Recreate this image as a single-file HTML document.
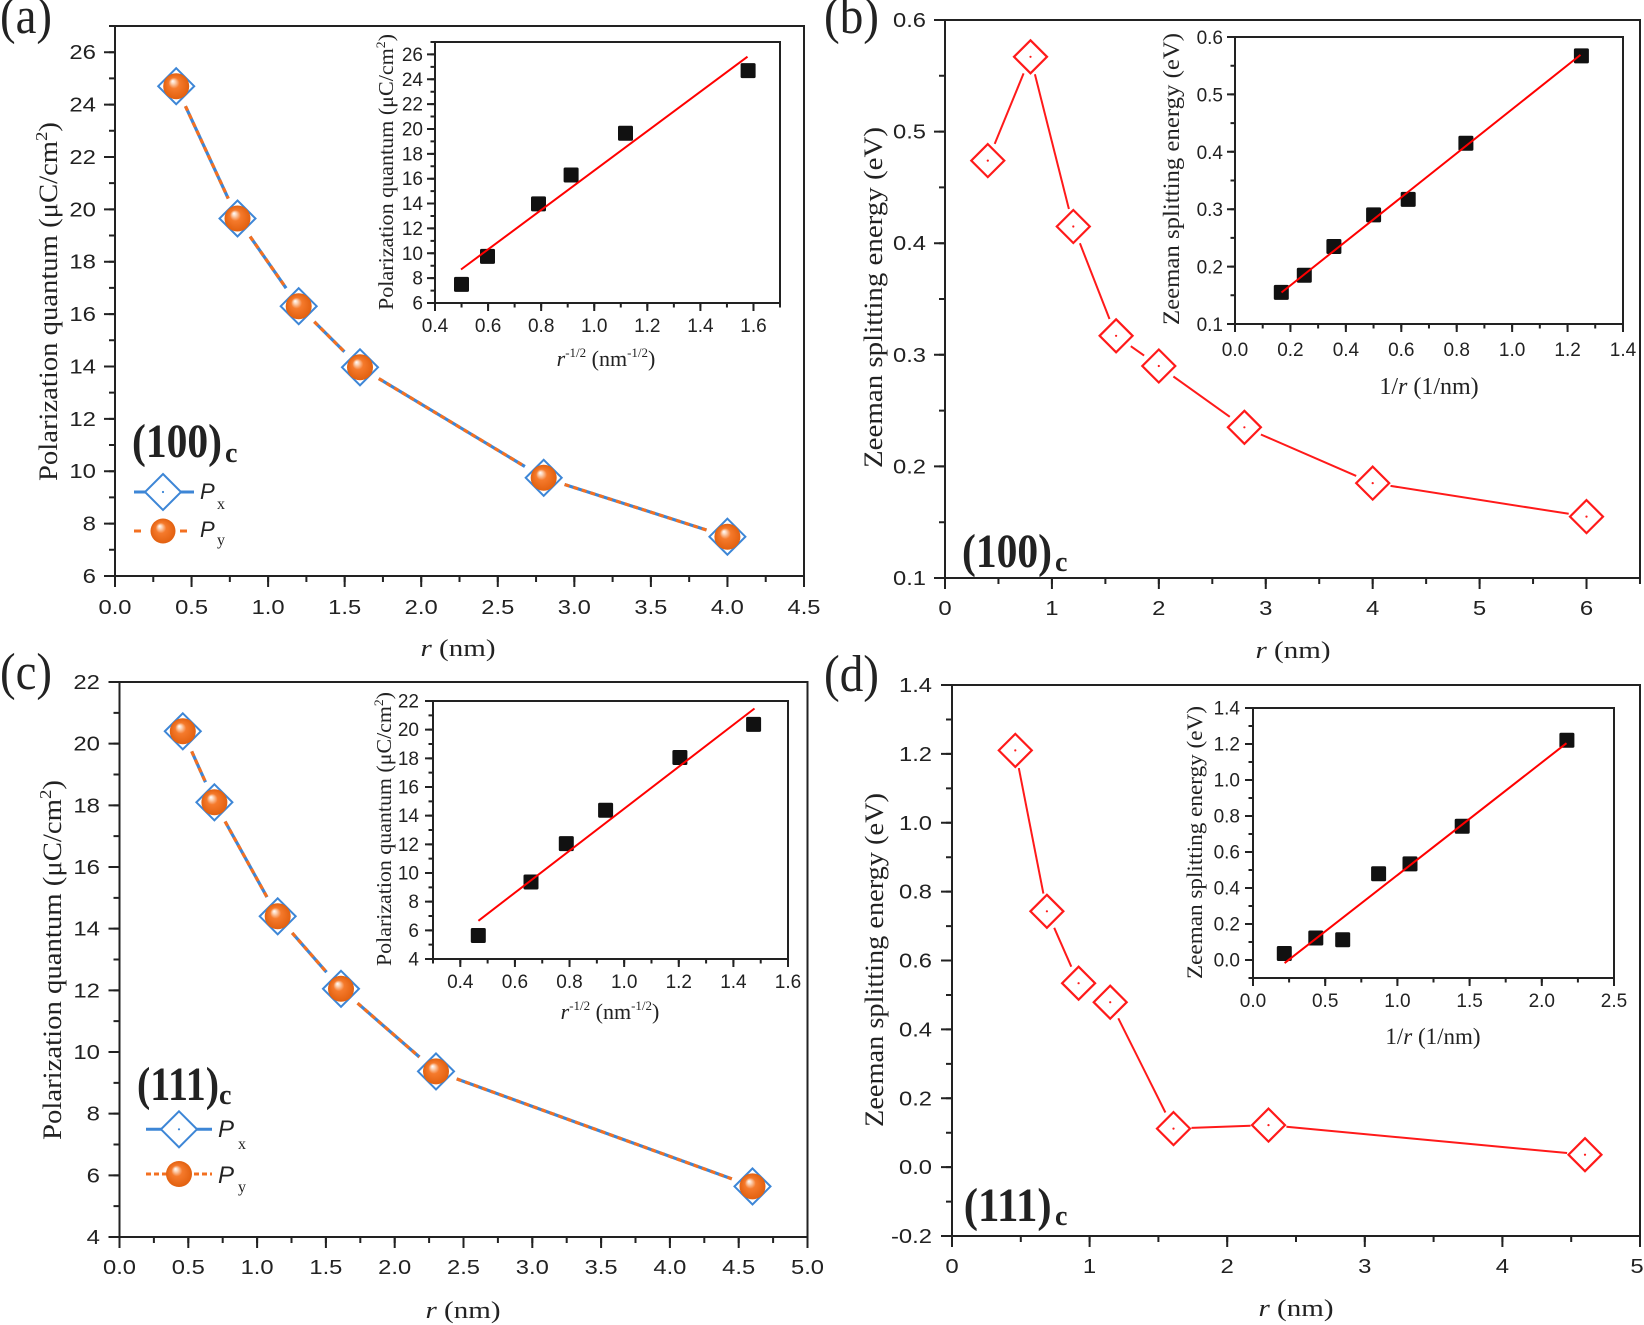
<!DOCTYPE html>
<html><head><meta charset="utf-8"><style>
html,body{margin:0;padding:0;background:#fff;}
svg{display:block;}
.ax{fill:none;stroke:#222;stroke-width:2;}
.tk line{stroke:#222;}
.tl{font-family:"Liberation Sans",Arial,sans-serif;font-size:20px;fill:#222;}
.ti{font-family:"Liberation Sans",Arial,sans-serif;font-size:19px;fill:#222;}
.ser{font-family:"Liberation Serif","Times New Roman",serif;fill:#222;}
.bl{stroke:#3d86d6;stroke-width:3.2;fill:none;}
.or{stroke:#f37021;stroke-width:3.2;fill:none;stroke-dasharray:5 4;}
.rl{stroke:#ff1a1a;stroke-width:2;fill:none;}
.fit{stroke:#ff0000;stroke-width:2;fill:none;}
</style></head><body>
<svg width="1644" height="1325" viewBox="0 0 1644 1325" xmlns="http://www.w3.org/2000/svg">
<defs>
<radialGradient id="ball" cx="0.5" cy="0.5" r="0.5" fx="0.36" fy="0.3">
<stop offset="0" stop-color="#ffffff"/>
<stop offset="0.15" stop-color="#fcd6bb"/>
<stop offset="0.42" stop-color="#f57a2c"/>
<stop offset="1" stop-color="#e2600f"/>
</radialGradient>
<path id="bd" d="M0,-18 L18,0 L0,18 L-18,0 Z" fill="#fff" stroke="#3d86d6" stroke-width="2"/>
<circle id="bb" r="13" fill="url(#ball)"/>
<g id="rd"><path d="M0,-16.5 L16.5,0 L0,16.5 L-16.5,0 Z" fill="none" stroke="#ff1a1a" stroke-width="2.2"/><circle r="1.1" fill="#ff1a1a"/></g>
<rect id="sq" x="-7.5" y="-7.5" width="15" height="15" rx="1.5" fill="#111"/>
</defs>

<!-- ================= PANEL A ================= -->
<text class="ser" x="0" y="33" font-size="52" textLength="52" lengthAdjust="spacingAndGlyphs">(a)</text>
<rect x="115" y="26" width="689" height="550" class="ax"/>
<g class="tk">
<line x1="114" y1="581.5" x2="805.5" y2="581.5" stroke-width="11" stroke-dasharray="2 74.556"/>
<line x1="114" y1="579" x2="805.5" y2="579" stroke-width="6" stroke-dasharray="2 36.278"/>
<line x1="109.5" y1="577" x2="109.5" y2="50.5" stroke-width="11" stroke-dasharray="2 50.38"/>
<line x1="112" y1="577" x2="112" y2="25" stroke-width="6" stroke-dasharray="2 24.19"/>
</g>
<g class="tl" text-anchor="middle">
<text x="115" y="614" textLength="33" lengthAdjust="spacingAndGlyphs">0.0</text>
<text x="191.6" y="614" textLength="33" lengthAdjust="spacingAndGlyphs">0.5</text>
<text x="268.1" y="614" textLength="33" lengthAdjust="spacingAndGlyphs">1.0</text>
<text x="344.7" y="614" textLength="33" lengthAdjust="spacingAndGlyphs">1.5</text>
<text x="421.2" y="614" textLength="33" lengthAdjust="spacingAndGlyphs">2.0</text>
<text x="497.8" y="614" textLength="33" lengthAdjust="spacingAndGlyphs">2.5</text>
<text x="574.3" y="614" textLength="33" lengthAdjust="spacingAndGlyphs">3.0</text>
<text x="650.9" y="614" textLength="33" lengthAdjust="spacingAndGlyphs">3.5</text>
<text x="727.4" y="614" textLength="33" lengthAdjust="spacingAndGlyphs">4.0</text>
<text x="804" y="614" textLength="33" lengthAdjust="spacingAndGlyphs">4.5</text>
</g>
<g class="tl" text-anchor="end">
<text x="96" y="583" textLength="13.3" lengthAdjust="spacingAndGlyphs">6</text>
<text x="96" y="530.6" textLength="13.3" lengthAdjust="spacingAndGlyphs">8</text>
<text x="96" y="478.2" textLength="26.6" lengthAdjust="spacingAndGlyphs">10</text>
<text x="96" y="425.9" textLength="26.6" lengthAdjust="spacingAndGlyphs">12</text>
<text x="96" y="373.5" textLength="26.6" lengthAdjust="spacingAndGlyphs">14</text>
<text x="96" y="321.1" textLength="26.6" lengthAdjust="spacingAndGlyphs">16</text>
<text x="96" y="268.7" textLength="26.6" lengthAdjust="spacingAndGlyphs">18</text>
<text x="96" y="216.3" textLength="26.6" lengthAdjust="spacingAndGlyphs">20</text>
<text x="96" y="164" textLength="26.6" lengthAdjust="spacingAndGlyphs">22</text>
<text x="96" y="111.6" textLength="26.6" lengthAdjust="spacingAndGlyphs">24</text>
<text x="96" y="59.2" textLength="26.6" lengthAdjust="spacingAndGlyphs">26</text>
</g>
<text class="ser" x="458" y="656" font-size="24" text-anchor="middle" textLength="75" lengthAdjust="spacingAndGlyphs"><tspan font-style="italic">r</tspan> (nm)</text>
<text class="ser" font-size="26" transform="translate(57,481) rotate(-90)" textLength="359" lengthAdjust="spacingAndGlyphs">Polarization quantum (μC/cm<tspan dy="-10" font-size="17">2</tspan><tspan dy="10">)</tspan></text>
<g>
<line class="bl" x1="185.45" y1="106.16" x2="228.25" y2="198.54"/>
<line class="bl" x1="250.1" y1="236.55" x2="286.1" y2="288.15"/>
<line class="bl" x1="314.3" y1="321.7" x2="344.4" y2="351.8"/>
<line class="bl" x1="378.8" y1="378.6" x2="524.9" y2="466.5"/>
<line class="bl" x1="564.6" y1="484.5" x2="706.5" y2="530"/>
<line class="or" x1="185.45" y1="106.16" x2="228.25" y2="198.54"/>
<line class="or" x1="250.1" y1="236.55" x2="286.1" y2="288.15"/>
<line class="or" x1="314.3" y1="321.7" x2="344.4" y2="351.8"/>
<line class="or" x1="378.8" y1="378.6" x2="524.9" y2="466.5"/>
<line class="or" x1="564.6" y1="484.5" x2="706.5" y2="530"/>
</g>
<use href="#bd" x="176.2" y="86.2"/><use href="#bb" x="176.2" y="86.2"/>
<use href="#bd" x="237.5" y="218.5"/><use href="#bb" x="237.5" y="218.5"/>
<use href="#bd" x="298.7" y="306.2"/><use href="#bb" x="298.7" y="306.2"/>
<use href="#bd" x="360" y="367.3"/><use href="#bb" x="360" y="367.3"/>
<use href="#bd" x="543.7" y="477.8"/><use href="#bb" x="543.7" y="477.8"/>
<use href="#bd" x="727.4" y="536.7"/><use href="#bb" x="727.4" y="536.7"/>
<text class="ser" font-weight="bold" x="132" y="457" font-size="48" textLength="90" lengthAdjust="spacingAndGlyphs">(100)</text>
<text class="ser" font-weight="bold" x="225" y="462" font-size="28">c</text>
<line x1="134" y1="492" x2="194" y2="492" stroke="#3d86d6" stroke-width="3"/>
<use href="#bd" x="163" y="492"/><circle cx="163" cy="492" r="1.1" fill="#3d86d6"/>
<line x1="134" y1="531" x2="141" y2="531" stroke="#f37021" stroke-width="3"/>
<line x1="180" y1="531" x2="187" y2="531" stroke="#f37021" stroke-width="3"/>
<circle cx="163" cy="531" r="12.5" fill="url(#ball)"/>
<text x="200" y="499" font-family="Liberation Sans, Arial, sans-serif" font-style="italic" font-size="22" fill="#222">P</text>
<text class="ser" x="217" y="509" font-size="16">x</text>
<text x="200" y="537" font-family="Liberation Sans, Arial, sans-serif" font-style="italic" font-size="22" fill="#222">P</text>
<text class="ser" x="217" y="545" font-size="16">y</text>
<!-- inset A -->
<rect x="435" y="42" width="345" height="261" class="ax" fill="#fff"/>
<g class="tk">
<line x1="434" y1="307" x2="754.6" y2="307" stroke-width="8" stroke-dasharray="2 51.08"/>
<line x1="434" y1="305.25" x2="781" y2="305.25" stroke-width="4.5" stroke-dasharray="2 24.54"/>
<line x1="431" y1="304" x2="431" y2="53.3" stroke-width="8" stroke-dasharray="2 22.86"/>
<line x1="432.75" y1="304" x2="432.75" y2="41" stroke-width="4.5" stroke-dasharray="2 10.43"/>
</g>
<g class="ti" text-anchor="middle">
<text x="435" y="332">0.4</text><text x="488.1" y="332">0.6</text><text x="541.2" y="332">0.8</text><text x="594.2" y="332">1.0</text><text x="647.3" y="332">1.2</text><text x="700.4" y="332">1.4</text><text x="753.5" y="332">1.6</text>
</g>
<g class="ti" text-anchor="end">
<text x="423" y="309.5">6</text><text x="423" y="284.6">8</text><text x="423" y="259.8">10</text><text x="423" y="234.9">12</text><text x="423" y="210.1">14</text><text x="423" y="185.2">16</text><text x="423" y="160.3">18</text><text x="423" y="135.5">20</text><text x="423" y="110.6">22</text><text x="423" y="85.8">24</text><text x="423" y="60.9">26</text>
</g>
<text class="ser" x="606" y="366" font-size="22" text-anchor="middle"><tspan font-style="italic">r</tspan><tspan font-size="13" dy="-9">-1/2</tspan><tspan dy="9"> (nm</tspan><tspan font-size="13" dy="-9">-1/2</tspan><tspan dy="9">)</tspan></text>
<text class="ser" font-size="21" transform="translate(393,310) rotate(-90)" textLength="276" lengthAdjust="spacingAndGlyphs">Polarization quantum (μC/cm<tspan dy="-8" font-size="13">2</tspan><tspan dy="8">)</tspan></text>
<use href="#sq" x="461.5" y="284.4"/><use href="#sq" x="487.5" y="256.4"/><use href="#sq" x="538.5" y="203.9"/><use href="#sq" x="571.1" y="175"/><use href="#sq" x="625.5" y="133.3"/><use href="#sq" x="748.1" y="70.6"/>
<line class="fit" x1="461" y1="269.5" x2="747.5" y2="56.7"/>

<!-- ================= PANEL B ================= -->
<text class="ser" x="824" y="33" font-size="52" textLength="55" lengthAdjust="spacingAndGlyphs">(b)</text>
<rect x="945" y="20" width="695" height="558" class="ax"/>
<g class="tk">
<line x1="944" y1="583.5" x2="1588" y2="583.5" stroke-width="11" stroke-dasharray="2 104.92"/>
<line x1="944" y1="581" x2="1641" y2="581" stroke-width="6" stroke-dasharray="2 51.46"/>
<line x1="939.5" y1="579" x2="939.5" y2="19" stroke-width="11" stroke-dasharray="2 109.6"/>
<line x1="942" y1="579" x2="942" y2="19" stroke-width="6" stroke-dasharray="2 53.8"/>
</g>
<g class="tl" text-anchor="middle">
<text x="945" y="615" textLength="13.3" lengthAdjust="spacingAndGlyphs">0</text>
<text x="1051.9" y="615" textLength="13.3" lengthAdjust="spacingAndGlyphs">1</text>
<text x="1158.8" y="615" textLength="13.3" lengthAdjust="spacingAndGlyphs">2</text>
<text x="1265.8" y="615" textLength="13.3" lengthAdjust="spacingAndGlyphs">3</text>
<text x="1372.7" y="615" textLength="13.3" lengthAdjust="spacingAndGlyphs">4</text>
<text x="1479.6" y="615" textLength="13.3" lengthAdjust="spacingAndGlyphs">5</text>
<text x="1586.5" y="615" textLength="13.3" lengthAdjust="spacingAndGlyphs">6</text>
</g>
<g class="tl" text-anchor="end">
<text x="926" y="585" textLength="33" lengthAdjust="spacingAndGlyphs">0.1</text>
<text x="926" y="473.4" textLength="33" lengthAdjust="spacingAndGlyphs">0.2</text>
<text x="926" y="361.8" textLength="33" lengthAdjust="spacingAndGlyphs">0.3</text>
<text x="926" y="250.2" textLength="33" lengthAdjust="spacingAndGlyphs">0.4</text>
<text x="926" y="138.6" textLength="33" lengthAdjust="spacingAndGlyphs">0.5</text>
<text x="926" y="27" textLength="33" lengthAdjust="spacingAndGlyphs">0.6</text>
</g>
<text class="ser" x="1293" y="658" font-size="24" text-anchor="middle" textLength="75" lengthAdjust="spacingAndGlyphs"><tspan font-style="italic">r</tspan> (nm)</text>
<text class="ser" font-size="26" transform="translate(882,468) rotate(-90)" textLength="341" lengthAdjust="spacingAndGlyphs">Zeeman splitting energy (eV)</text>
<line class="rl" x1="994.7" y1="143.9" x2="1023.6" y2="73.4"/>
<line class="rl" x1="1034.9" y1="74.3" x2="1068.9" y2="209"/>
<line class="rl" x1="1079.9" y1="243.3" x2="1109.5" y2="319"/>
<line class="rl" x1="1130.8" y1="346.2" x2="1144.1" y2="355.6"/>
<line class="rl" x1="1173.4" y1="376.5" x2="1229.8" y2="416.8"/>
<line class="rl" x1="1260.9" y1="434.5" x2="1356.2" y2="475.9"/>
<line class="rl" x1="1390.5" y1="485.9" x2="1568.7" y2="513.8"/>
<use href="#rd" x="987.8" y="160.6"/><use href="#rd" x="1030.5" y="56.8"/><use href="#rd" x="1073.3" y="226.5"/><use href="#rd" x="1116.1" y="335.8"/><use href="#rd" x="1158.8" y="366"/><use href="#rd" x="1244.4" y="427.3"/><use href="#rd" x="1372.7" y="483.1"/><use href="#rd" x="1586.5" y="516.6"/>
<text class="ser" font-weight="bold" x="962" y="567" font-size="48" textLength="90" lengthAdjust="spacingAndGlyphs">(100)</text>
<text class="ser" font-weight="bold" x="1055" y="571" font-size="28">c</text>
<!-- inset B -->
<rect x="1235" y="37" width="388" height="287" class="ax" fill="#fff"/>
<g class="tk">
<line x1="1234" y1="328" x2="1624" y2="328" stroke-width="8" stroke-dasharray="2 53.43"/>
<line x1="1234" y1="326.25" x2="1624" y2="326.25" stroke-width="4.5" stroke-dasharray="2 25.71"/>
<line x1="1231" y1="325" x2="1231" y2="36" stroke-width="8" stroke-dasharray="2 55.4"/>
<line x1="1232.75" y1="325" x2="1232.75" y2="36" stroke-width="4.5" stroke-dasharray="2 26.7"/>
</g>
<g class="ti" text-anchor="middle" font-size="20">
<text x="1235" y="356">0.0</text><text x="1290.4" y="356">0.2</text><text x="1345.9" y="356">0.4</text><text x="1401.3" y="356">0.6</text><text x="1456.7" y="356">0.8</text><text x="1512.1" y="356">1.0</text><text x="1567.6" y="356">1.2</text><text x="1623" y="356">1.4</text>
</g>
<g class="ti" text-anchor="end" font-size="20">
<text x="1223" y="331">0.1</text><text x="1223" y="273.6">0.2</text><text x="1223" y="216.2">0.3</text><text x="1223" y="158.8">0.4</text><text x="1223" y="101.4">0.5</text><text x="1223" y="44">0.6</text>
</g>
<text class="ser" x="1429" y="394" font-size="24" text-anchor="middle">1/<tspan font-style="italic">r</tspan> (1/nm)</text>
<text class="ser" font-size="23" transform="translate(1179,325) rotate(-90)" textLength="292" lengthAdjust="spacingAndGlyphs">Zeeman splitting energy (eV)</text>
<use href="#sq" x="1281.3" y="292.4"/><use href="#sq" x="1304.3" y="275.2"/><use href="#sq" x="1333.9" y="246.5"/><use href="#sq" x="1373.6" y="214.9"/><use href="#sq" x="1408.2" y="199.4"/><use href="#sq" x="1465.9" y="143.2"/><use href="#sq" x="1581.4" y="55.9"/>
<line class="fit" x1="1281.5" y1="292.5" x2="1580.5" y2="54.9"/>

<!-- ================= PANEL C ================= -->
<text class="ser" x="0" y="689" font-size="52" textLength="52" lengthAdjust="spacingAndGlyphs">(c)</text>
<rect x="119.5" y="682" width="688" height="555" class="ax"/>
<g class="tk">
<line x1="118.5" y1="1242.5" x2="808.5" y2="1242.5" stroke-width="11" stroke-dasharray="2 66.8"/>
<line x1="118.5" y1="1240" x2="808.5" y2="1240" stroke-width="6" stroke-dasharray="2 32.4"/>
<line x1="114" y1="1238" x2="114" y2="681" stroke-width="11" stroke-dasharray="2 59.667"/>
<line x1="116.5" y1="1238" x2="116.5" y2="681" stroke-width="6" stroke-dasharray="2 28.833"/>
</g>
<g class="tl" text-anchor="middle">
<text x="119.5" y="1274" textLength="33" lengthAdjust="spacingAndGlyphs">0.0</text>
<text x="188.3" y="1274" textLength="33" lengthAdjust="spacingAndGlyphs">0.5</text>
<text x="257.1" y="1274" textLength="33" lengthAdjust="spacingAndGlyphs">1.0</text>
<text x="325.9" y="1274" textLength="33" lengthAdjust="spacingAndGlyphs">1.5</text>
<text x="394.7" y="1274" textLength="33" lengthAdjust="spacingAndGlyphs">2.0</text>
<text x="463.5" y="1274" textLength="33" lengthAdjust="spacingAndGlyphs">2.5</text>
<text x="532.3" y="1274" textLength="33" lengthAdjust="spacingAndGlyphs">3.0</text>
<text x="601.1" y="1274" textLength="33" lengthAdjust="spacingAndGlyphs">3.5</text>
<text x="669.9" y="1274" textLength="33" lengthAdjust="spacingAndGlyphs">4.0</text>
<text x="738.7" y="1274" textLength="33" lengthAdjust="spacingAndGlyphs">4.5</text>
<text x="807.5" y="1274" textLength="33" lengthAdjust="spacingAndGlyphs">5.0</text>
</g>
<g class="tl" text-anchor="end">
<text x="100" y="1244" textLength="13.3" lengthAdjust="spacingAndGlyphs">4</text>
<text x="100" y="1182.3" textLength="13.3" lengthAdjust="spacingAndGlyphs">6</text>
<text x="100" y="1120.7" textLength="13.3" lengthAdjust="spacingAndGlyphs">8</text>
<text x="100" y="1059" textLength="26.6" lengthAdjust="spacingAndGlyphs">10</text>
<text x="100" y="997.3" textLength="26.6" lengthAdjust="spacingAndGlyphs">12</text>
<text x="100" y="935.7" textLength="26.6" lengthAdjust="spacingAndGlyphs">14</text>
<text x="100" y="874" textLength="26.6" lengthAdjust="spacingAndGlyphs">16</text>
<text x="100" y="812.3" textLength="26.6" lengthAdjust="spacingAndGlyphs">18</text>
<text x="100" y="750.7" textLength="26.6" lengthAdjust="spacingAndGlyphs">20</text>
<text x="100" y="689" textLength="26.6" lengthAdjust="spacingAndGlyphs">22</text>
</g>
<text class="ser" x="463" y="1318" font-size="24" text-anchor="middle" textLength="75" lengthAdjust="spacingAndGlyphs"><tspan font-style="italic">r</tspan> (nm)</text>
<text class="ser" font-size="26" transform="translate(61,1140) rotate(-90)" textLength="360" lengthAdjust="spacingAndGlyphs">Polarization quantum (μC/cm<tspan dy="-10" font-size="17">2</tspan><tspan dy="10">)</tspan></text>
<g>
<line class="bl" x1="191.7" y1="751.4" x2="205.5" y2="782.2"/>
<line class="bl" x1="225.1" y1="821.5" x2="267" y2="897.1"/>
<line class="bl" x1="292.2" y1="932.9" x2="326.5" y2="972.2"/>
<line class="bl" x1="357.6" y1="1003.2" x2="419.4" y2="1057"/>
<line class="bl" x1="456.7" y1="1078.9" x2="731.8" y2="1178.9"/>
<line class="or" x1="191.7" y1="751.4" x2="205.5" y2="782.2"/>
<line class="or" x1="225.1" y1="821.5" x2="267" y2="897.1"/>
<line class="or" x1="292.2" y1="932.9" x2="326.5" y2="972.2"/>
<line class="or" x1="357.6" y1="1003.2" x2="419.4" y2="1057"/>
<line class="or" x1="456.7" y1="1078.9" x2="731.8" y2="1178.9"/>
</g>
<use href="#bd" x="182.8" y="731.3"/><use href="#bb" x="182.8" y="731.3"/>
<use href="#bd" x="214.4" y="802.3"/><use href="#bb" x="214.4" y="802.3"/>
<use href="#bd" x="277.7" y="916.3"/><use href="#bb" x="277.7" y="916.3"/>
<use href="#bd" x="341" y="988.8"/><use href="#bb" x="341" y="988.8"/>
<use href="#bd" x="436" y="1071.4"/><use href="#bb" x="436" y="1071.4"/>
<use href="#bd" x="752.5" y="1186.4"/><use href="#bb" x="752.5" y="1186.4"/>
<text class="ser" font-weight="bold" x="137" y="1100" font-size="48" textLength="82" lengthAdjust="spacingAndGlyphs">(111)</text>
<text class="ser" font-weight="bold" x="219" y="1104" font-size="28">c</text>
<line x1="146" y1="1129.3" x2="212" y2="1129.3" stroke="#3d86d6" stroke-width="3"/>
<use href="#bd" x="179" y="1129.3"/><circle cx="179" cy="1129.3" r="1.1" fill="#3d86d6"/>
<line x1="146" y1="1174" x2="212" y2="1174" stroke="#f37021" stroke-width="3" stroke-dasharray="5 3"/>
<circle cx="179" cy="1174" r="13" fill="url(#ball)"/>
<text x="218" y="1137" font-family="Liberation Sans, Arial, sans-serif" font-style="italic" font-size="24" fill="#222">P</text>
<text class="ser" x="238" y="1149" font-size="16">x</text>
<text x="218" y="1183" font-family="Liberation Sans, Arial, sans-serif" font-style="italic" font-size="24" fill="#222">P</text>
<text class="ser" x="238" y="1192" font-size="16">y</text>
<!-- inset C -->
<rect x="433" y="701" width="355" height="258" class="ax" fill="#fff"/>
<g class="tk">
<line x1="459.3" y1="963" x2="789" y2="963" stroke-width="8" stroke-dasharray="2 52.62"/>
<line x1="432" y1="961.25" x2="789" y2="961.25" stroke-width="4.5" stroke-dasharray="2 25.31"/>
<line x1="429" y1="960" x2="429" y2="700" stroke-width="8" stroke-dasharray="2 26.667"/>
<line x1="430.75" y1="960" x2="430.75" y2="700" stroke-width="4.5" stroke-dasharray="2 12.333"/>
</g>
<g class="ti" text-anchor="middle">
<text x="460.3" y="988">0.4</text><text x="514.9" y="988">0.6</text><text x="569.5" y="988">0.8</text><text x="624.2" y="988">1.0</text><text x="678.8" y="988">1.2</text><text x="733.4" y="988">1.4</text><text x="788" y="988">1.6</text>
</g>
<g class="ti" text-anchor="end">
<text x="419" y="965.5">4</text><text x="419" y="936.8">6</text><text x="419" y="908.2">8</text><text x="419" y="879.5">10</text><text x="419" y="850.8">12</text><text x="419" y="822.2">14</text><text x="419" y="793.5">16</text><text x="419" y="764.8">18</text><text x="419" y="736.2">20</text><text x="419" y="707.5">22</text>
</g>
<text class="ser" x="610" y="1019" font-size="22" text-anchor="middle"><tspan font-style="italic">r</tspan><tspan font-size="13" dy="-9">-1/2</tspan><tspan dy="9"> (nm</tspan><tspan font-size="13" dy="-9">-1/2</tspan><tspan dy="9">)</tspan></text>
<text class="ser" font-size="21" transform="translate(391,966) rotate(-90)" textLength="274" lengthAdjust="spacingAndGlyphs">Polarization quantum (μC/cm<tspan dy="-8" font-size="13">2</tspan><tspan dy="8">)</tspan></text>
<use href="#sq" x="478.3" y="935.5"/><use href="#sq" x="531" y="882"/><use href="#sq" x="566.3" y="843.6"/><use href="#sq" x="605.6" y="810.2"/><use href="#sq" x="679.9" y="757.5"/><use href="#sq" x="753.6" y="724.4"/>
<line class="fit" x1="478.4" y1="920.8" x2="754.5" y2="708.5"/>

<!-- ================= PANEL D ================= -->
<text class="ser" x="824" y="691" font-size="52" textLength="55" lengthAdjust="spacingAndGlyphs">(d)</text>
<rect x="952" y="685" width="688" height="551" class="ax"/>
<g class="tk">
<line x1="951" y1="1241.5" x2="1641" y2="1241.5" stroke-width="11" stroke-dasharray="2 135.6"/>
<line x1="951" y1="1239" x2="1641" y2="1239" stroke-width="6" stroke-dasharray="2 66.8"/>
<line x1="946.5" y1="1237" x2="946.5" y2="684" stroke-width="11" stroke-dasharray="2 66.875"/>
<line x1="949" y1="1237" x2="949" y2="684" stroke-width="6" stroke-dasharray="2 32.4375"/>
</g>
<g class="tl" text-anchor="middle">
<text x="952" y="1273" textLength="13.3" lengthAdjust="spacingAndGlyphs">0</text>
<text x="1089.6" y="1273" textLength="13.3" lengthAdjust="spacingAndGlyphs">1</text>
<text x="1227.2" y="1273" textLength="13.3" lengthAdjust="spacingAndGlyphs">2</text>
<text x="1364.8" y="1273" textLength="13.3" lengthAdjust="spacingAndGlyphs">3</text>
<text x="1502.4" y="1273" textLength="13.3" lengthAdjust="spacingAndGlyphs">4</text>
<text x="1637" y="1273" textLength="13.3" lengthAdjust="spacingAndGlyphs">5</text>
</g>
<g class="tl" text-anchor="end">
<text x="932" y="1243" textLength="41" lengthAdjust="spacingAndGlyphs">-0.2</text>
<text x="932" y="1174.1" textLength="33" lengthAdjust="spacingAndGlyphs">0.0</text>
<text x="932" y="1105.3" textLength="33" lengthAdjust="spacingAndGlyphs">0.2</text>
<text x="932" y="1036.4" textLength="33" lengthAdjust="spacingAndGlyphs">0.4</text>
<text x="932" y="967.5" textLength="33" lengthAdjust="spacingAndGlyphs">0.6</text>
<text x="932" y="898.6" textLength="33" lengthAdjust="spacingAndGlyphs">0.8</text>
<text x="932" y="829.8" textLength="33" lengthAdjust="spacingAndGlyphs">1.0</text>
<text x="932" y="760.9" textLength="33" lengthAdjust="spacingAndGlyphs">1.2</text>
<text x="932" y="692" textLength="33" lengthAdjust="spacingAndGlyphs">1.4</text>
</g>
<text class="ser" x="1296" y="1316" font-size="24" text-anchor="middle" textLength="75" lengthAdjust="spacingAndGlyphs"><tspan font-style="italic">r</tspan> (nm)</text>
<text class="ser" font-size="26" transform="translate(883,1127) rotate(-90)" textLength="334" lengthAdjust="spacingAndGlyphs">Zeeman splitting energy (eV)</text>
<line class="rl" x1="1018.8" y1="768.1" x2="1043.4" y2="893.6"/>
<line class="rl" x1="1054.2" y1="927.8" x2="1071.3" y2="966.7"/>
<line class="rl" x1="1118.3" y1="1018.3" x2="1165.4" y2="1112.5"/>
<line class="rl" x1="1191.5" y1="1127.9" x2="1250.5" y2="1125.8"/>
<line class="rl" x1="1286.4" y1="1126.8" x2="1567.1" y2="1153"/>
<use href="#rd" x="1015.3" y="750.4"/><use href="#rd" x="1046.9" y="911.3"/><use href="#rd" x="1078.6" y="983.2"/><use href="#rd" x="1110.2" y="1002.2"/><use href="#rd" x="1173.5" y="1128.6"/><use href="#rd" x="1268.5" y="1125.1"/><use href="#rd" x="1585" y="1154.7"/>
<text class="ser" font-weight="bold" x="963.7" y="1221" font-size="48" textLength="88" lengthAdjust="spacingAndGlyphs">(111)</text>
<text class="ser" font-weight="bold" x="1055" y="1225" font-size="28">c</text>
<!-- inset D -->
<rect x="1253" y="708" width="361" height="270" class="ax" fill="#fff"/>
<g class="tk">
<line x1="1252" y1="982" x2="1615" y2="982" stroke-width="8" stroke-dasharray="2 70.2"/>
<line x1="1252" y1="980.25" x2="1615" y2="980.25" stroke-width="4.5" stroke-dasharray="2 34.1"/>
<line x1="1249" y1="961" x2="1249" y2="707" stroke-width="8" stroke-dasharray="2 34"/>
<line x1="1250.75" y1="979" x2="1250.75" y2="707" stroke-width="4.5" stroke-dasharray="2 16"/>
</g>
<g class="ti" text-anchor="middle">
<text x="1253" y="1007">0.0</text><text x="1325.2" y="1007">0.5</text><text x="1397.4" y="1007">1.0</text><text x="1469.6" y="1007">1.5</text><text x="1541.8" y="1007">2.0</text><text x="1614" y="1007">2.5</text>
</g>
<g class="ti" text-anchor="end">
<text x="1240" y="966.5">0.0</text><text x="1240" y="930.5">0.2</text><text x="1240" y="894.5">0.4</text><text x="1240" y="858.5">0.6</text><text x="1240" y="822.5">0.8</text><text x="1240" y="786.5">1.0</text><text x="1240" y="750.5">1.2</text><text x="1240" y="714.5">1.4</text>
</g>
<text class="ser" x="1433" y="1044" font-size="23" text-anchor="middle">1/<tspan font-style="italic">r</tspan> (1/nm)</text>
<text class="ser" font-size="22" transform="translate(1202,979) rotate(-90)" textLength="273" lengthAdjust="spacingAndGlyphs">Zeeman splitting energy (eV)</text>
<use href="#sq" x="1284.3" y="953.5"/><use href="#sq" x="1315.8" y="938"/><use href="#sq" x="1342.7" y="939.8"/><use href="#sq" x="1378.6" y="873.8"/><use href="#sq" x="1410" y="863.9"/><use href="#sq" x="1462.2" y="826.3"/><use href="#sq" x="1566.9" y="740.2"/>
<line class="fit" x1="1284.6" y1="963.1" x2="1566.5" y2="743.2"/>
</svg>
</body></html>
